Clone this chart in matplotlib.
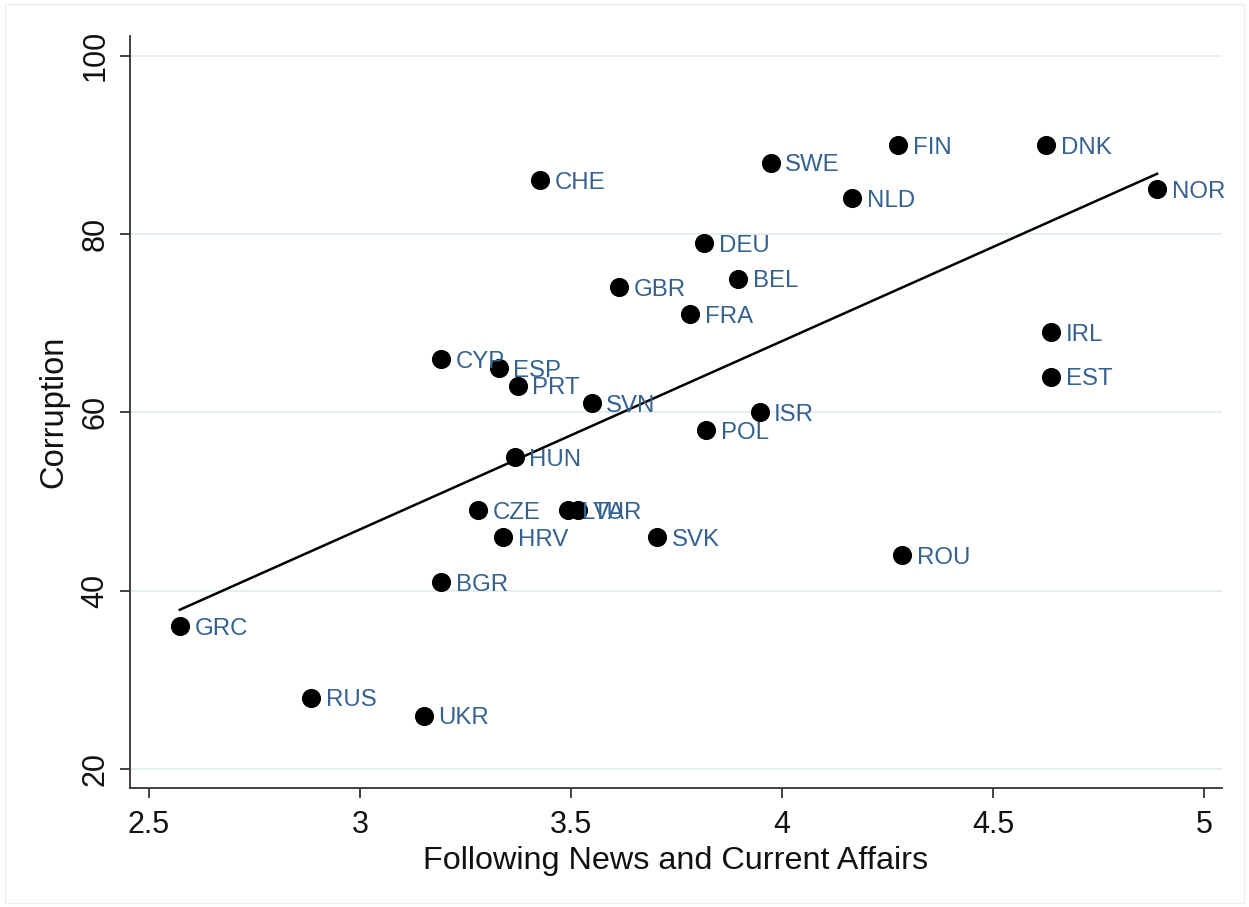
import numpy as np
import matplotlib
matplotlib.use("Agg")
import matplotlib.pyplot as plt
from matplotlib.patches import Rectangle

plt.rcParams['font.family'] = ['Liberation Sans', 'DejaVu Sans']

countries = ["GRC", "RUS", "UKR", "BGR", "CYP", "CZE", "HRV", "ESP", "PRT", "HUN",
             "CHE", "LVA", "TUR", "SVN", "GBR", "SVK", "FRA", "DEU", "POL", "BEL",
             "ISR", "SWE", "NLD", "FIN", "ROU", "DNK", "IRL", "EST", "NOR"]
news = [2.573, 2.884, 3.151, 3.192, 3.192, 3.279, 3.339, 3.329, 3.374, 3.367,
        3.426, 3.492, 3.516, 3.549, 3.615, 3.705, 3.783, 3.816, 3.821, 3.897,
        3.947, 3.973, 4.167, 4.276, 4.285, 4.626, 4.638, 4.638, 4.889]
corruption = [36, 28, 26, 41, 66, 49, 46, 65, 63, 55,
              86, 49, 49, 61, 74, 46, 71, 79, 58, 75,
              60, 88, 84, 90, 44, 90, 69, 64, 85]

xticks = [2.5, 3, 3.5, 4, 4.5, 5]
xticklabels = ["2.5", "3", "3.5", "4", "4.5", "5"]
yticks = [20, 40, 60, 80, 100]

x = np.array(news)
y = np.array(corruption, dtype=float)

fig = plt.figure(figsize=(12.49, 9.07), dpi=100)
fig.patches.append(Rectangle((0.004, 0.004), 0.992, 0.992, transform=fig.transFigure,
                             fill=False, edgecolor="#eeeeee", linewidth=1.0))
ax = fig.add_axes([130 / 1249, 1 - 788 / 907, (1222 - 130) / 1249, (788 - 36) / 907])

ax.set_xlim(2.455, 5.043)
ax.set_ylim(17.87, 102.2)

# horizontal grid
for t in yticks:
    ax.axhline(t, color="#e5eef0", linewidth=1.4, zorder=0)

# linear fit
b, a = np.polyfit(x, y, 1)
xs = np.array([x.min(), x.max()])
ax.plot(xs, a + b * xs, color="black", linewidth=1.8, zorder=2)

ax.scatter(x, y, s=190, color="black", zorder=3, linewidths=0)
for name, xi, yi in zip(countries, x, y):
    ax.annotate(name, (xi, yi), xytext=(10.5, -2), textcoords="offset points",
                va="center", ha="left", fontsize=17.3, color="#34618f", zorder=4)

for side in ["top", "right"]:
    ax.spines[side].set_visible(False)
for side in ["left", "bottom"]:
    ax.spines[side].set_linewidth(1.3)
    ax.spines[side].set_color("#333333")

ax.set_xticks(xticks)
ax.set_xticklabels(xticklabels)
ax.set_yticks(yticks)
ax.set_yticklabels([str(t) for t in yticks], rotation=90, va="center")
ax.tick_params(axis="both", direction="out", length=7, width=1.3, color="#333333",
               labelsize=22, labelcolor="#111111")
ax.tick_params(axis="x", pad=9)
ax.tick_params(axis="y", pad=7)

ax.set_xlabel("Following News and Current Affairs", fontsize=23.3, color="#111111", labelpad=4)
ax.set_ylabel("Corruption", fontsize=23.5, color="#111111", labelpad=8)

fig.savefig("out.png", dpi=100, facecolor="white")
